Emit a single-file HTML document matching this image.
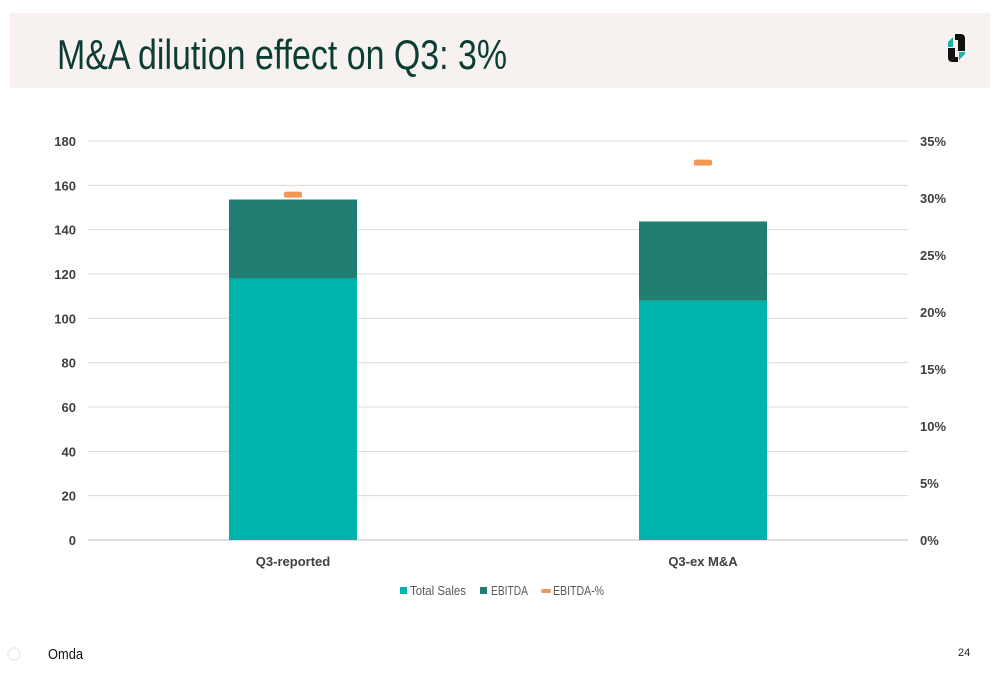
<!DOCTYPE html>
<html><head><meta charset="utf-8"><style>
html,body{margin:0;padding:0;background:#fff;}
svg{display:block;font-family:"Liberation Sans",sans-serif;}
</style></head><body>
<svg id="c" width="1000" height="685" viewBox="0 0 1000 685">
  <rect x="10" y="13" width="980" height="75" fill="#f7f2ef"/>
  <text x="57" y="69" font-size="42" fill="#0b3d35" textLength="450" lengthAdjust="spacingAndGlyphs">M&amp;A dilution effect on Q3: 3%</text>
  <g>
    <path d="M955,34 h6 a4,4 0 0 1 4,4 v13 h-7 v-11 h-3 z" fill="#111"/>
    <path d="M948,48 h7 v9 h3 v5 h-6 a4,4 0 0 1 -4,-4 z" fill="#111"/>
    <path d="M948,47 v-5 l5,-5 v10 z" fill="#1bb3a9"/>
    <path d="M959,52 h6 v2 l-6,6 z" fill="#1bb3a9"/>
  </g>
  <g id="grid"></g>
  <g id="bars"></g>
  <g id="axes"></g>
  <g>
    <g><rect x="400" y="587" width="7" height="7" fill="#00b4ac"/><text x="410" y="595" font-size="13" fill="#595959" textLength="56" lengthAdjust="spacingAndGlyphs">Total Sales</text></g>
    <g><rect x="480" y="587" width="7" height="7" fill="#217e72"/><text x="491" y="595" font-size="13" fill="#595959" textLength="37" lengthAdjust="spacingAndGlyphs">EBITDA</text></g>
    <g><rect x="541" y="589" width="10" height="4" rx="2" fill="#f39754"/><text x="553" y="595" font-size="13" fill="#595959" textLength="51" lengthAdjust="spacingAndGlyphs">EBITDA-%</text></g>
  </g>
  <text x="48" y="659" font-size="15" fill="#111" textLength="35" lengthAdjust="spacingAndGlyphs">Omda</text>
  <circle cx="14" cy="654" r="6" fill="none" stroke="#f0f0f0" stroke-width="2"/>
  <text x="958" y="656" font-size="11" fill="#222">24</text>
</svg>
<script>
const categories=["Q3-reported","Q3-ex M&A"];
const totalSales=[118,108];
const ebitda=[35.6,35.7];
const ebitdaPct=[30.3,33.1];
const leftTicks=[0,20,40,60,80,100,120,140,160,180];
const rightTicks=[0,5,10,15,20,25,30,35];
const NS="http://www.w3.org/2000/svg";
const x0=88,x1=908,y0=540,yTop=141;
const yL=v=>y0-(v/180)*(y0-yTop);
const yR=v=>y0-(v/35)*(y0-yTop);
const band=(x1-x0)/categories.length;
const xc=i=>x0+band*(i+0.5);
function mk(tag,attrs,parent){const e=document.createElementNS(NS,tag);for(const k in attrs)e.setAttribute(k,attrs[k]);parent.appendChild(e);return e;}
const grid=document.getElementById('grid'),bars=document.getElementById('bars'),axes=document.getElementById('axes');
leftTicks.forEach(t=>{
  const l=mk('line',{x1:x0,x2:x1,y1:yL(t),y2:yL(t),stroke:t===0?'#bfbfbf':'#d9d9d9','stroke-width':1},grid);
  
  
  const tx=mk('text',{x:76,y:yL(t)+5,'text-anchor':'end','font-size':13,'font-weight':'bold',fill:'#404040'},axes);
  tx.textContent=t;
  
  
});
rightTicks.forEach(t=>{
  const tx=mk('text',{x:920,y:yR(t)+5,'font-size':13,'font-weight':'bold',fill:'#404040'},axes);
  tx.textContent=t+'%';
  
  
});
const bw=128;
categories.forEach((c,i)=>{
  const cx=xc(i);
  const r1=mk('rect',{x:cx-bw/2,y:yL(totalSales[i]),width:bw,height:y0-yL(totalSales[i]),fill:'#00b4ac'},bars);
  
  
  const top=totalSales[i]+ebitda[i];
  const r2=mk('rect',{x:cx-bw/2,y:yL(top),width:bw,height:yL(totalSales[i])-yL(top),fill:'#217e72'},bars);
  
  
  const m=mk('rect',{x:cx-9,y:yR(ebitdaPct[i])-3,width:18,height:6,rx:2,fill:'#f39754'},bars);
  
  
  const tx=mk('text',{x:cx,y:566,'text-anchor':'middle','font-size':13,'font-weight':'bold',fill:'#404040'},axes);
  tx.textContent=c;
  
  
});
</script>
</body></html>
